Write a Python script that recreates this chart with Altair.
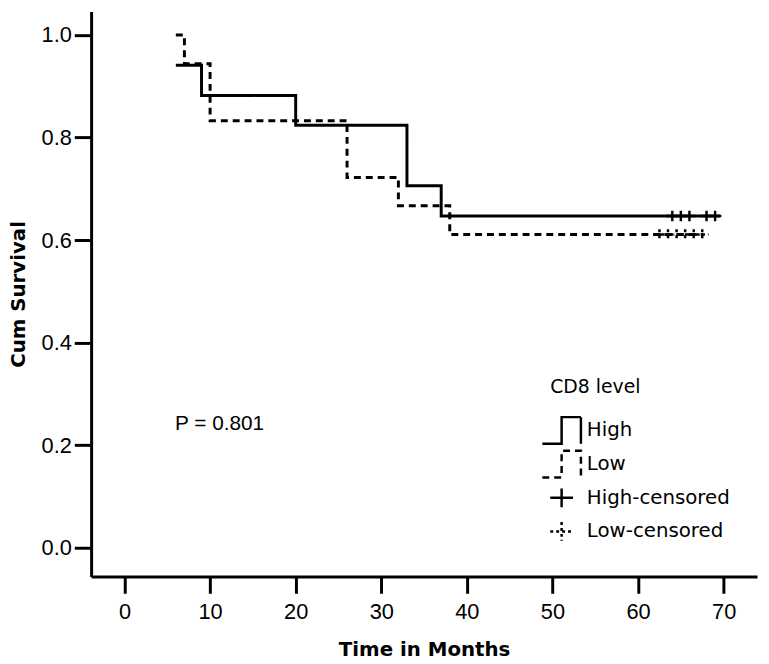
import altair as alt
import pandas as pd

# ---- data ----
series_names = ["High", "Low", "High-censored", "Low-censored"]

high_time = [6, 9, 20, 33, 37, 69.6]
high_surv = [0.941, 0.882, 0.824, 0.706, 0.647, 0.647]

low_time = [6, 7, 10, 26, 32, 38, 67.6]
low_surv = [1.0, 0.944, 0.833, 0.722, 0.667, 0.611, 0.611]

high_cens_time = [64, 65, 66, 68, 69]
high_cens_surv = [0.647, 0.647, 0.647, 0.647, 0.647]

low_cens_time = [62.5, 63.5, 64.5, 65.5, 66.5, 67.5]
low_cens_surv = [0.611, 0.611, 0.611, 0.611, 0.611, 0.611]

x_ticks = [0, 10, 20, 30, 40, 50, 60, 70]
y_ticks = [0.0, 0.2, 0.4, 0.6, 0.8, 1.0]

p_label = ["P = 0.801"]
p_time = [5.9]
p_surv = [0.241]

# ---- tables ----
lines_df = pd.DataFrame({
    "time": high_time + low_time,
    "surv": high_surv + low_surv,
    "series": ["High"] * len(high_time) + ["Low"] * len(low_time),
})
cens_df = pd.DataFrame({
    "time": high_cens_time + low_cens_time,
    "surv": high_cens_surv + low_cens_surv,
    "series": ["High-censored"] * len(high_cens_time) + ["Low-censored"] * len(low_cens_time),
})
text_df = pd.DataFrame({"time": p_time, "surv": p_surv, "label": p_label})

x_scale = alt.Scale(domain=[-3.9, 73.9], nice=False, zero=False)
y_scale = alt.Scale(domain=[-0.056, 1.046], nice=False, zero=False)
dash_scale = alt.Scale(domain=series_names, range=[[1, 0], [7, 5], [1, 0], [3, 3]])

step_path = "M-1.95,1.35H0V-1.35H1.95V1.35"
plus_path = "M-1.15,0H1.15M0,-0.95V0.95"
shape_scale = alt.Scale(domain=series_names, range=[step_path, step_path, plus_path, plus_path])

x_axis = alt.Axis(values=x_ticks, title="Time in Months", grid=False,
                  tickSize=17, labelPadding=9, titlePadding=17, labelFlush=False)
y_axis = alt.Axis(values=y_ticks, format=".1f", title="Cum Survival", grid=False,
                  tickSize=17, labelPadding=3, titlePadding=13)

legend = alt.Legend(
    title="CD8 level", orient="none", legendX=464, legendY=371,
    titleFont="DejaVu Sans", titleFontSize=19, titleFontWeight="normal",
    titleColor="black", titlePadding=22,
    labelFont="DejaVu Sans", labelFontSize=20, labelColor="black",
    labelOffset=14, symbolOffset=0, symbolSize=400, rowPadding=-3, gridAlign="all",
    symbolStrokeColor="black", symbolStrokeWidth=2.5, symbolFillColor="transparent",
    symbolOpacity=1,
)

lines = alt.Chart(lines_df).mark_line(interpolate="step-after", color="black", strokeWidth=3).encode(
    x=alt.X("time:Q", scale=x_scale, axis=x_axis),
    y=alt.Y("surv:Q", scale=y_scale, axis=y_axis),
    strokeDash=alt.StrokeDash("series:N", scale=dash_scale, legend=legend),
    detail="series:N",
)

cens = alt.Chart(cens_df).mark_point(size=120, color="black",
                                     strokeWidth=2.5, filled=False, opacity=1).encode(
    x=alt.X("time:Q", scale=x_scale),
    y=alt.Y("surv:Q", scale=y_scale),
    strokeDash=alt.StrokeDash("series:N", scale=dash_scale, legend=legend),
    shape=alt.Shape("series:N", scale=shape_scale, legend=legend),
)

ptext = alt.Chart(text_df).mark_text(align="left", baseline="middle", font="Liberation Sans",
                                     fontSize=21, color="black").encode(
    x=alt.X("time:Q", scale=x_scale),
    y=alt.Y("surv:Q", scale=y_scale),
    text="label:N",
)

chart = alt.layer(lines, cens, ptext).properties(
    width=673, height=571,
    autosize=alt.AutoSizeParams(type="none"),
    padding={"left": 84, "top": 0, "right": 4, "bottom": 84},
    background="white",
).configure_view(stroke=None).configure_axis(
    domainColor="black", domainWidth=3, tickColor="black", tickWidth=3,
    labelFont="Liberation Sans", labelFontSize=22, labelColor="black",
    titleFont="DejaVu Sans", titleFontSize=20, titleFontWeight="bold", titleColor="black",
)

chart.save("out.html", embed_options={"renderer": "svg", "actions": False})
